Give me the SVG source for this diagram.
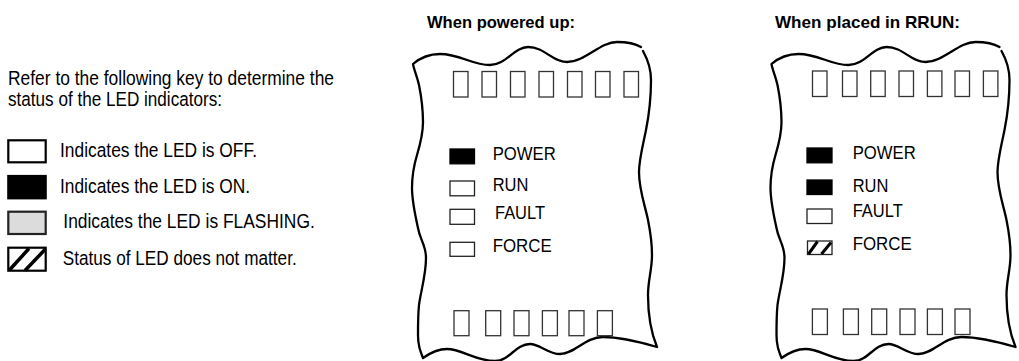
<svg xmlns="http://www.w3.org/2000/svg" width="1019" height="361" viewBox="0 0 1019 361">
<style>
.key{font-family:"Liberation Sans Narrow","Liberation Sans",Arial,sans-serif;font-size:20.5px;fill:#000}
.lbl{font-family:"Liberation Sans Narrow","Liberation Sans",Arial,sans-serif;font-size:19px;fill:#000}
.ttl{font-family:"Liberation Sans",Arial,sans-serif;font-size:17px;font-weight:bold;fill:#000}
.edge{fill:none;stroke:#000;stroke-width:2.3;stroke-linecap:round;stroke-linejoin:round}
.led{fill:#fff;stroke:#333;stroke-width:1.3}
.off{fill:#fff;stroke:#222;stroke-width:1.3}
.on{fill:#000;stroke:#000;stroke-width:1.3}
.koff{fill:#fff;stroke:#000;stroke-width:2.2}
.kon{fill:#000;stroke:#000;stroke-width:2.2}
.kfl{fill:#dcdcdc;stroke:#222;stroke-width:2.2}
.hat{stroke:#000;stroke-linecap:butt}
</style>
<defs>
<path id="outline" class="edge" d="M643,51 C648,60 651,68 651,80 C651,100 649,115 646,130 C643,145 639,160 639,172 C639,190 645,205 648,220 C651,235 652,245 652,255 C652,270 648,280 648,295 C648,315 650,330 657,347 C640,342 620,337 603,337 C585,337 575,354 560,354 C548,354 540,344 530,344 C515,344 510,361 495,361 C475,361 462,349 447,349 C437,349 430,353 423,358 C420,350 418,345 418,335 C418,320 418,315 419,305 C421,290 426,275 426,258 C426,245 420,240 418,228 C414,210 412,200 412,188 C412,175 414,165 417,155 C420,145 423,135 423,122 C423,105 421,95 419,85 C417,76 414,70 413,64 C420,58 428,54 440,54 C460,54 472,65 490,65 C506,65 514,47 528,47 C545,47 552,62 567,62 C585,62 600,42 617,42 C628,42 636,44 641,47"/>
</defs>

<g id="key">
  <text class="key" x="8" y="85" textLength="326" lengthAdjust="spacingAndGlyphs">Refer to the following key to determine the</text>
  <text class="key" x="8" y="106" textLength="214" lengthAdjust="spacingAndGlyphs">status of the LED indicators:</text>
  <g id="key-off">
    <rect class="koff" x="8.3" y="140.3" width="37.4" height="22"/>
    <text class="key" x="60" y="157" textLength="197" lengthAdjust="spacingAndGlyphs">Indicates the LED is OFF.</text>
  </g>
  <g id="key-on">
    <rect class="kon" x="8.3" y="176" width="37.4" height="22.3"/>
    <text class="key" x="60" y="192.5" textLength="190" lengthAdjust="spacingAndGlyphs">Indicates the LED is ON.</text>
  </g>
  <g id="key-flash">
    <rect class="kfl" x="8.3" y="211.7" width="37.4" height="22.3"/>
    <text class="key" x="63.3" y="228" textLength="251.5" lengthAdjust="spacingAndGlyphs">Indicates the LED is FLASHING.</text>
  </g>
  <g id="key-any">
    <rect class="koff" x="8.3" y="247.7" width="37.4" height="23"/>
    <line class="hat" x1="9.5" y1="270" x2="29" y2="248.5" stroke-width="3.5"/>
    <line class="hat" x1="25" y1="270.5" x2="45.5" y2="249" stroke-width="3.5"/>
    <text class="key" x="62.7" y="264.5" textLength="234" lengthAdjust="spacingAndGlyphs">Status of LED does not matter.</text>
  </g>
</g>

<g id="panel-powered">
  <text class="ttl" x="427" y="27.5" textLength="148" lengthAdjust="spacingAndGlyphs">When powered up:</text>
  <use href="#outline"/>
  <g id="top-leds-1">
    <rect class="led" x="453.5" y="71.5" width="14.5" height="25.5"/>
    <rect class="led" x="482" y="71.5" width="14.5" height="25.5"/>
    <rect class="led" x="510.5" y="71.5" width="14.5" height="25.5"/>
    <rect class="led" x="539" y="71.5" width="14.5" height="25.5"/>
    <rect class="led" x="567.5" y="71.5" width="14.5" height="25.5"/>
    <rect class="led" x="595.5" y="71.5" width="14.5" height="25.5"/>
    <rect class="led" x="624" y="71.5" width="14.5" height="25.5"/>
  </g>
  <g id="status-1">
    <rect class="on" x="450" y="149" width="24.5" height="14.8"/>
    <text class="lbl" x="492.7" y="160" textLength="63" lengthAdjust="spacingAndGlyphs">POWER</text>
    <rect class="off" x="450" y="181" width="24.5" height="14.8"/>
    <text class="lbl" x="492.7" y="190.7" textLength="35.7" lengthAdjust="spacingAndGlyphs">RUN</text>
    <rect class="off" x="450" y="209.3" width="24.5" height="15"/>
    <text class="lbl" x="495" y="219" textLength="50" lengthAdjust="spacingAndGlyphs">FAULT</text>
    <rect class="off" x="450" y="242.3" width="24.5" height="14"/>
    <text class="lbl" x="492.7" y="251.7" textLength="59" lengthAdjust="spacingAndGlyphs">FORCE</text>
  </g>
  <g id="bottom-leds-1">
    <rect class="led" x="454" y="310.7" width="15" height="25"/>
    <rect class="led" x="485.7" y="310.7" width="15" height="25"/>
    <rect class="led" x="514" y="310.7" width="15" height="25"/>
    <rect class="led" x="542.4" y="310.7" width="15" height="25"/>
    <rect class="led" x="569" y="310.7" width="15" height="25"/>
    <rect class="led" x="597.4" y="310.7" width="15" height="25"/>
  </g>
</g>

<g id="panel-rrun">
  <text class="ttl" x="775" y="27.5" textLength="185" lengthAdjust="spacingAndGlyphs">When placed in RRUN:</text>
  <use href="#outline" transform="translate(358.5,0)"/>
  <g id="top-leds-2">
    <rect class="led" x="812.5" y="71" width="14.5" height="25.5"/>
    <rect class="led" x="842.5" y="71" width="14.5" height="25.5"/>
    <rect class="led" x="870.7" y="71" width="14.5" height="25.5"/>
    <rect class="led" x="899" y="71" width="14.5" height="25.5"/>
    <rect class="led" x="927.4" y="71" width="14.5" height="25.5"/>
    <rect class="led" x="955" y="71" width="14.5" height="25.5"/>
    <rect class="led" x="983.4" y="71" width="14.5" height="25.5"/>
  </g>
  <g id="status-2">
    <rect class="on" x="807" y="148" width="25" height="14.8"/>
    <text class="lbl" x="852.7" y="159.3" textLength="63" lengthAdjust="spacingAndGlyphs">POWER</text>
    <rect class="on" x="807" y="180" width="25" height="14.5"/>
    <text class="lbl" x="852.7" y="191.7" textLength="35.7" lengthAdjust="spacingAndGlyphs">RUN</text>
    <rect class="off" x="807" y="209" width="25" height="14.5"/>
    <text class="lbl" x="852.7" y="217.3" textLength="50" lengthAdjust="spacingAndGlyphs">FAULT</text>
    <rect class="off" x="807.5" y="241" width="24.5" height="13.5"/>
    <line class="hat" x1="808.5" y1="254" x2="817.5" y2="241.5" stroke-width="3"/>
    <line class="hat" x1="821.5" y1="254" x2="831" y2="242.5" stroke-width="3"/>
    <text class="lbl" x="852.7" y="250" textLength="59" lengthAdjust="spacingAndGlyphs">FORCE</text>
  </g>
  <g id="bottom-leds-2">
    <rect class="led" x="812.4" y="309" width="15" height="25.5"/>
    <rect class="led" x="843.4" y="309" width="15" height="25.5"/>
    <rect class="led" x="871.7" y="309" width="15" height="25.5"/>
    <rect class="led" x="900" y="309" width="15" height="25.5"/>
    <rect class="led" x="927.4" y="309" width="15" height="25.5"/>
    <rect class="led" x="955" y="309" width="15" height="25.5"/>
  </g>
</g>
</svg>
